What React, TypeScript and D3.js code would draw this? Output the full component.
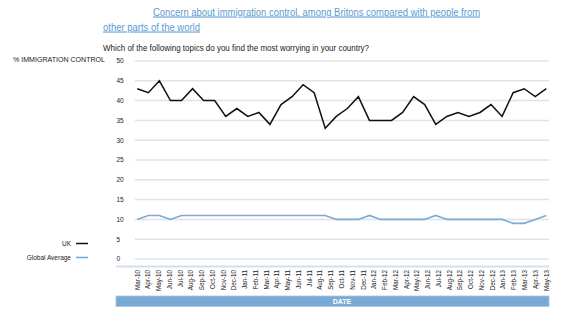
import React from "react";
import * as d3 from "d3";

const months = [
  "Mar-10","Apr-10","May-10","Jun-10","Jul-10","Aug-10","Sep-10","Oct-10","Nov-10","Dec-10",
  "Jan-11","Feb-11","Mar-11","Apr-11","May-11","Jun-11","Jul-11","Aug-11","Sep-11","Oct-11","Nov-11","Dec-11",
  "Jan-12","Feb-12","Mar-12","Apr-12","May-12","Jun-12","Jul-12","Aug-12","Sep-12","Oct-12","Nov-12","Dec-12",
  "Jan-13","Feb-13","Mar-13","Apr-13","May-13",
];
const ukValues = [43,42,45,40,40,43,40,40,36,38,36,37,34,39,41,44,42,33,36,38,41,35,35,35,37,41,39,34,36,37,36,37,39,36,42,43,41,43];
const globalValues = [10,11,11,10,11,11,11,11,11,11,11,11,11,11,11,11,11,11,10,10,10,11,10,10,10,10,10,11,10,10,10,10,10,10,9,9,10,11];
const yTicks = [0,5,10,15,20,25,30,35,40,45,50];

const W = 584, H = 324;
const FONT = "'Liberation Sans', Arial, Helvetica, sans-serif";

export default function App() {
  const x0 = 137.3, x1 = 546.3;
  const y = d3.scaleLinear().domain([0, 50]).range([259, 61]);
  const xLab = d3.scalePoint<string>().domain(months).range([x0, x1]);
  const xData = d3.scaleLinear().domain([0, ukValues.length - 1]).range([x0, x1]);
  const line = d3.line<number>().x((_, i) => xData(i)).y((d) => y(d));
  const gridL = 135, gridR = 549;

  return (
    <svg width={W} height={H} style={{ position: "absolute", left: 0, top: 0, background: "#fff" }} fontFamily={FONT}>
      <text x={153} y={15.5} fontSize={10.5} fill="#5b9bd2" textLength={327} lengthAdjust="spacingAndGlyphs" textDecoration="underline">
        Concern about immigration control, among Britons compared with people from
      </text>
      <text x={103} y={30.5} fontSize={10.5} fill="#5b9bd2" textLength={97} lengthAdjust="spacingAndGlyphs" textDecoration="underline">
        other parts of the world
      </text>
      <text x={103} y={51} fontSize={9} fill="#222" textLength={266} lengthAdjust="spacingAndGlyphs">
        Which of the following topics do you find the most worrying in your country?
      </text>
      <text x={13} y={61.5} fontSize={6.5} fill="#222" textLength={92} lengthAdjust="spacingAndGlyphs">
        % IMMIGRATION CONTROL
      </text>

      {yTicks.map((t) => (
        <g key={t}>
          <line x1={gridL} x2={gridR} y1={y(t)} y2={y(t)} stroke="#e2e2e6" strokeWidth={1.5} />
          <text x={116.5} y={y(t) + 2.3} fontSize={6.5} fill="#222">{t}</text>
        </g>
      ))}

      <path d={line(globalValues) || ""} fill="none" stroke="#7aaad6" strokeWidth={1.6} />
      <path d={line(ukValues) || ""} fill="none" stroke="#111" strokeWidth={1.5} />

      <text x={71} y={245.5} fontSize={6.5} fill="#222" textAnchor="end">UK</text>
      <line x1={76} x2={88} y1={243.5} y2={243.5} stroke="#111" strokeWidth={1.5} />
      <text x={71} y={259.5} fontSize={6.5} fill="#222" textAnchor="end">Global Average</text>
      <line x1={76} x2={88} y1={257.5} y2={257.5} stroke="#7aaad6" strokeWidth={1.6} />

      <line x1={116} x2={gridR} y1={266.5} y2={266.5} stroke="#cfe0f0" strokeWidth={2} />

      {months.map((m) => (
        <text key={m} transform={`translate(${(xLab(m) || 0) + 2.2},270) rotate(-90)`} fontSize={6.3} fill="#222" textAnchor="end">
          {m}
        </text>
      ))}

      <rect x={116} y={296} width={gridR - 116} height={10.5} fill="#7aa9d4" stroke="#a9c8e6" strokeWidth={0.8} />
      <text x={(gridL + gridR) / 2} y={303.8} fontSize={7} fontWeight="bold" fill="#fff" textAnchor="middle">DATE</text>
    </svg>
  );
}
